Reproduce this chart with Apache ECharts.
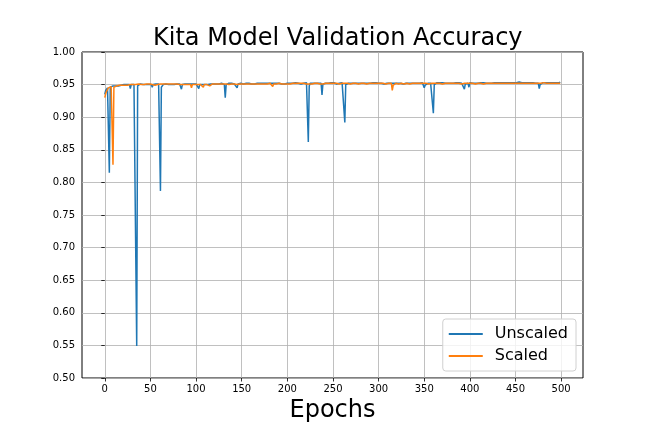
<!DOCTYPE html>
<html>
<head>
<meta charset="utf-8">
<script src="https://cdn.jsdelivr.net/npm/echarts@6/dist/echarts.min.js"></script>
<style>
  html, body { margin: 0; padding: 0; background: #fff; }
  #chart { width: 648px; height: 432px; }
</style>
</head>
<body>
<div id="chart"></div>
<script>
var xTicks = [0, 50, 100, 150, 200, 250, 300, 350, 400, 450, 500];

var unscaled = [
  0.935,0.941,0.944,0.945,0.947,0.815,0.946,0.947,0.948,0.948,0.947,0.949,0.948,0.949,0.949,0.948,0.950,0.949,0.949,0.950,
  0.949,0.950,0.950,0.949,0.950,0.950,0.948,0.950,0.944,0.950,0.950,0.949,0.950,0.951,0.950,0.549,0.948,0.950,0.950,0.951,
  0.950,0.951,0.950,0.950,0.951,0.950,0.949,0.951,0.950,0.951,0.950,0.950,0.946,0.950,0.951,0.950,0.951,0.950,0.949,0.951,
  0.950,0.787,0.946,0.949,0.950,0.951,0.950,0.951,0.950,0.951,0.950,0.951,0.951,0.950,0.948,0.947,0.950,0.951,0.950,0.951,
  0.951,0.950,0.951,0.950,0.943,0.950,0.951,0.950,0.951,0.951,0.950,0.951,0.950,0.951,0.951,0.950,0.951,0.951,0.950,0.951,
  0.951,0.950,0.951,0.944,0.950,0.951,0.951,0.950,0.951,0.951,0.950,0.951,0.951,0.950,0.951,0.951,0.951,0.950,0.951,0.951,
  0.951,0.950,0.951,0.951,0.952,0.951,0.950,0.951,0.952,0.951,0.951,0.950,0.930,0.950,0.951,0.951,0.952,0.951,0.951,0.952,
  0.951,0.952,0.951,0.951,0.950,0.945,0.951,0.952,0.951,0.952,0.953,0.952,0.951,0.952,0.951,0.952,0.951,0.952,0.952,0.951,
  0.952,0.951,0.952,0.952,0.951,0.952,0.951,0.952,0.952,0.951,0.952,0.952,0.951,0.952,0.952,0.951,0.952,0.952,0.951,0.952,
  0.952,0.951,0.952,0.951,0.952,0.952,0.951,0.952,0.952,0.951,0.952,0.952,0.953,0.952,0.951,0.952,0.952,0.951,0.952,0.953,
  0.952,0.952,0.951,0.952,0.953,0.952,0.952,0.953,0.952,0.953,0.953,0.952,0.952,0.953,0.952,0.951,0.952,0.953,0.952,0.952,
  0.952,0.953,0.952,0.862,0.948,0.952,0.952,0.953,0.952,0.952,0.951,0.952,0.953,0.952,0.952,0.953,0.952,0.952,0.934,0.951,
  0.952,0.953,0.952,0.952,0.953,0.952,0.951,0.952,0.953,0.952,0.952,0.953,0.952,0.952,0.951,0.952,0.953,0.952,0.952,0.952,
  0.953,0.952,0.952,0.892,0.950,0.952,0.953,0.952,0.952,0.953,0.952,0.952,0.953,0.952,0.951,0.952,0.952,0.953,0.952,0.952,
  0.952,0.953,0.952,0.952,0.951,0.952,0.953,0.952,0.952,0.953,0.952,0.952,0.951,0.952,0.953,0.952,0.952,0.953,0.952,0.952,
  0.952,0.953,0.952,0.952,0.953,0.952,0.951,0.952,0.953,0.952,0.952,0.953,0.952,0.952,0.953,0.952,0.952,0.951,0.952,0.953,
  0.952,0.952,0.953,0.952,0.952,0.953,0.952,0.951,0.952,0.953,0.952,0.952,0.953,0.952,0.952,0.953,0.952,0.952,0.951,0.952,
  0.953,0.952,0.952,0.953,0.952,0.952,0.951,0.952,0.953,0.952,0.945,0.949,0.950,0.952,0.952,0.953,0.952,0.952,0.953,0.952,
  0.906,0.950,0.951,0.952,0.953,0.952,0.952,0.953,0.952,0.952,0.953,0.952,0.953,0.952,0.952,0.953,0.952,0.953,0.952,0.952,
  0.953,0.952,0.952,0.953,0.952,0.953,0.952,0.952,0.953,0.952,0.953,0.952,0.952,0.953,0.943,0.951,0.952,0.953,0.952,0.946,
  0.953,0.952,0.953,0.952,0.952,0.953,0.952,0.953,0.953,0.952,0.953,0.952,0.953,0.952,0.953,0.953,0.952,0.953,0.952,0.953,
  0.953,0.952,0.953,0.953,0.952,0.953,0.952,0.953,0.953,0.952,0.953,0.953,0.952,0.953,0.953,0.952,0.953,0.953,0.952,0.953,
  0.953,0.952,0.953,0.953,0.954,0.953,0.952,0.953,0.953,0.952,0.953,0.953,0.952,0.953,0.954,0.953,0.952,0.953,0.953,0.952,
  0.953,0.953,0.952,0.953,0.954,0.953,0.953,0.952,0.953,0.953,0.954,0.953,0.952,0.953,0.953,0.952,0.944,0.950,0.952,0.953,
  0.953,0.953,0.954,0.953,0.953,0.952,0.953,0.954,0.953,0.953,0.954,0.953,0.953,0.954,0.953,0.953,0.954,0.953,0.953,0.954
];

var scaled = [
  0.930,0.936,0.940,0.943,0.945,0.946,0.946,0.947,0.947,0.827,0.946,0.947,0.948,0.948,0.949,0.948,0.949,0.949,0.950,0.949,
  0.949,0.950,0.949,0.950,0.950,0.949,0.950,0.950,0.950,0.949,0.950,0.950,0.950,0.949,0.950,0.950,0.950,0.951,0.950,0.950,
  0.950,0.950,0.951,0.950,0.950,0.950,0.951,0.950,0.950,0.951,0.950,0.950,0.950,0.951,0.950,0.949,0.950,0.951,0.950,0.950,
  0.950,0.951,0.950,0.950,0.951,0.950,0.950,0.951,0.950,0.950,0.951,0.950,0.950,0.951,0.950,0.950,0.951,0.950,0.950,0.951,
  0.950,0.951,0.950,0.950,0.951,0.950,0.950,0.951,0.950,0.950,0.951,0.950,0.950,0.951,0.950,0.945,0.950,0.951,0.950,0.950,
  0.951,0.950,0.950,0.951,0.950,0.950,0.951,0.950,0.946,0.950,0.951,0.950,0.950,0.951,0.950,0.948,0.950,0.951,0.951,0.950,
  0.951,0.951,0.950,0.951,0.951,0.950,0.951,0.951,0.951,0.950,0.951,0.951,0.950,0.951,0.951,0.951,0.950,0.951,0.951,0.951,
  0.951,0.950,0.951,0.951,0.951,0.950,0.951,0.951,0.951,0.951,0.950,0.951,0.951,0.951,0.951,0.950,0.951,0.951,0.951,0.951,
  0.951,0.951,0.952,0.951,0.951,0.951,0.951,0.952,0.951,0.951,0.951,0.952,0.951,0.951,0.951,0.951,0.952,0.951,0.951,0.951,
  0.951,0.952,0.951,0.951,0.947,0.951,0.951,0.952,0.951,0.951,0.951,0.952,0.951,0.951,0.951,0.952,0.951,0.951,0.951,0.952,
  0.951,0.951,0.952,0.951,0.951,0.951,0.952,0.951,0.951,0.952,0.951,0.951,0.952,0.951,0.951,0.952,0.951,0.951,0.952,0.951,
  0.952,0.951,0.951,0.952,0.951,0.952,0.951,0.951,0.952,0.951,0.952,0.951,0.952,0.952,0.951,0.952,0.951,0.952,0.952,0.951,
  0.952,0.951,0.952,0.952,0.951,0.952,0.952,0.951,0.952,0.952,0.951,0.952,0.952,0.951,0.952,0.952,0.952,0.951,0.952,0.952,
  0.952,0.951,0.952,0.952,0.952,0.951,0.952,0.952,0.952,0.951,0.952,0.952,0.952,0.952,0.951,0.952,0.952,0.952,0.951,0.952,
  0.952,0.952,0.951,0.952,0.952,0.952,0.952,0.951,0.952,0.952,0.952,0.952,0.951,0.952,0.952,0.952,0.952,0.951,0.952,0.952,
  0.952,0.952,0.952,0.951,0.952,0.952,0.952,0.952,0.951,0.952,0.952,0.952,0.952,0.951,0.952,0.941,0.949,0.952,0.952,0.952,
  0.952,0.952,0.951,0.952,0.952,0.952,0.952,0.952,0.951,0.952,0.952,0.952,0.952,0.952,0.951,0.952,0.952,0.952,0.952,0.952,
  0.952,0.951,0.952,0.952,0.952,0.952,0.952,0.952,0.951,0.952,0.952,0.952,0.952,0.952,0.952,0.951,0.952,0.952,0.952,0.952,
  0.952,0.952,0.952,0.951,0.952,0.952,0.952,0.952,0.952,0.952,0.951,0.952,0.952,0.952,0.952,0.952,0.952,0.951,0.952,0.952,
  0.952,0.952,0.952,0.952,0.951,0.952,0.952,0.952,0.952,0.952,0.952,0.951,0.952,0.952,0.952,0.952,0.952,0.952,0.952,0.951,
  0.952,0.952,0.952,0.952,0.952,0.952,0.951,0.952,0.952,0.952,0.952,0.952,0.952,0.952,0.952,0.951,0.952,0.952,0.952,0.952,
  0.952,0.952,0.952,0.951,0.952,0.952,0.952,0.952,0.952,0.952,0.952,0.952,0.951,0.952,0.952,0.952,0.952,0.952,0.952,0.952,
  0.951,0.952,0.952,0.952,0.952,0.952,0.952,0.952,0.952,0.952,0.953,0.952,0.952,0.952,0.952,0.952,0.952,0.952,0.953,0.952,
  0.952,0.952,0.952,0.952,0.952,0.953,0.952,0.952,0.952,0.952,0.952,0.952,0.952,0.953,0.952,0.952,0.952,0.952,0.952,0.952,
  0.952,0.953,0.952,0.952,0.952,0.952,0.952,0.952,0.953,0.952,0.952,0.952,0.952,0.952,0.952,0.953,0.952,0.952,0.952,0.952
];

function pairs(values) {
  return values.map(function (v, i) { return [i, v]; });
}

var chart = echarts.init(document.getElementById('chart'), null, { renderer: 'canvas' });
var font = 'DejaVu Sans';

chart.setOption({
  animation: false,
  backgroundColor: '#fff',
  title: {
    text: 'Kita Model Validation Accuracy',
    left: 148,
    top: 22,
    textStyle: { fontFamily: font, fontSize: 24, fontWeight: 'normal', color: '#000' }
  },
  grid: {
    left: 82, right: 65, top: 52, bottom: 54,
    outerBoundsMode: 'none',
    containLabel: false,
    show: true, borderColor: '#000', borderWidth: 1, backgroundColor: 'transparent'
  },
  legend: {
    orient: 'vertical',
    right: 72,
    bottom: 61,
    padding: [7, 8, 7, 6],
    itemGap: 6,
    itemWidth: 34,
    itemHeight: 2,
    icon: 'rect',
    backgroundColor: 'rgba(255,255,255,0.8)',
    borderColor: '#d0d0d0',
    borderWidth: 1,
    borderRadius: 3,
    textStyle: { fontFamily: font, fontSize: 16, color: '#000', padding: [0, 0, 0, 7] },
    data: ['Unscaled', 'Scaled']
  },
  xAxis: {
    type: 'value',
    min: -24.95,
    max: 523.95,
    name: 'Epochs',
    nameLocation: 'middle',
    nameGap: 21,
    nameTextStyle: { fontFamily: font, fontSize: 24, color: '#000' },
    axisLine: { show: false },
    axisTick: { show: true, customValues: xTicks, length: 3.5, lineStyle: { color: '#000', width: 0.8 } },
    axisLabel: { customValues: xTicks, fontFamily: font, fontSize: 10, color: '#000', margin: 6 },
    splitLine: { show: true, lineStyle: { color: '#b0b0b0', width: 0.8 } }
  },
  yAxis: {
    type: 'value',
    min: 0.5,
    max: 1.0,
    interval: 0.05,
    axisLine: { show: false },
    axisTick: { show: true, length: 3.5, lineStyle: { color: '#000', width: 0.8 } },
    axisLabel: {
      fontFamily: font, fontSize: 10, color: '#000', margin: 7,
      formatter: function (v) { return v.toFixed(2); }
    },
    splitLine: { show: true, lineStyle: { color: '#b0b0b0', width: 0.8 } }
  },
  series: [
    {
      name: 'Unscaled',
      type: 'line',
      data: pairs(unscaled),
      showSymbol: false,
      symbol: 'none',
      color: '#1f77b4',
      lineStyle: { width: 1.5, color: '#1f77b4' },
      z: 2
    },
    {
      name: 'Scaled',
      type: 'line',
      data: pairs(scaled),
      showSymbol: false,
      symbol: 'none',
      color: '#ff7f0e',
      lineStyle: { width: 1.5, color: '#ff7f0e' },
      z: 3
    }
  ]
});
</script>
</body>
</html>
